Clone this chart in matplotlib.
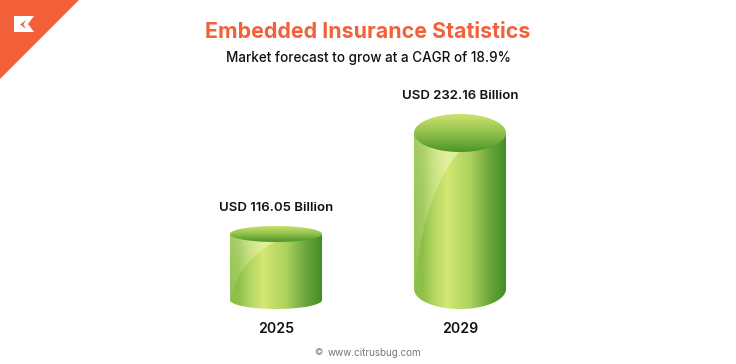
import numpy as np
import matplotlib
matplotlib.use('Agg')
import matplotlib.pyplot as plt
from matplotlib.colors import LinearSegmentedColormap
from matplotlib.patches import PathPatch, Polygon
from matplotlib.path import Path

years = ['2025', '2029']
values = [116.05, 232.16]
labels = ['USD 116.05 Billion', 'USD 232.16 Billion']

ORANGE = '#F2613A'
FONT = 'Inter'

# px per value unit, picked so the cylinder tops land where they do in the picture
PX_X = 184.0
PX_Y = 101.0 / (values[1] - values[0])
TOP_PX = [234, 133]
HALF_W = 46 / PX_X
top_semi = [8, 19]
bot_center_px = [300, 289]
bot_semi = [9, 20]

body_cmap = LinearSegmentedColormap.from_list('body', [
    (0.0, '#8CBF48'), (0.1, '#8FC14A'), (0.22, '#B4D763'), (0.36, '#D4E872'), (0.62, '#ABD05E'),
    (0.85, '#62A238'), (1.0, '#448F25')])
lid_cmap = LinearSegmentedColormap.from_list('lid', [
    (0.0, '#CFE56F'), (0.5, '#93C24D'), (1.0, '#4A9528')])

fig = plt.figure(figsize=(7.36, 3.64), dpi=100, facecolor='white')
ax = fig.add_axes([0, 0, 1, 1])
ax.axis('off')

deco = fig.add_axes([0, 0, 1, 1])
deco.set_xlim(0, 736)
deco.set_ylim(364, 0)
deco.axis('off')


def arc(cx, cy, rx, ry, a0, a1, n=60):
    t = np.linspace(a0, a1, n)
    return np.column_stack([cx + rx * np.cos(t), cy + ry * np.sin(t)])


def clipped_image(img, extent, verts, **kw):
    im = ax.imshow(img, extent=extent, aspect='auto', origin='upper', **kw)
    patch = PathPatch(Path(verts), transform=ax.transData, fc='none', ec='none')
    ax.add_patch(patch)
    im.set_clip_path(patch)
    return im


for i, v in enumerate(values):
    ry_top = top_semi[i] / PX_Y
    ry_bot = bot_semi[i] / PX_Y
    y_bot = v - (bot_center_px[i] - TOP_PX[i]) / PX_Y
    left, right = i - HALF_W, i + HALF_W
    extent = (left, right, y_bot - ry_bot, v + ry_top)

    # side of the cylinder
    lower = arc(i, y_bot, HALF_W, ry_bot, np.pi, 2 * np.pi)
    body = np.vstack([[[left, v]], lower, [[right, v]], [[left, v]]])
    grad = np.linspace(0, 1, 256).reshape(1, -1)
    clipped_image(grad, extent, body, cmap=body_cmap, vmin=0, vmax=1, zorder=2)

    # glossy patch on the upper left
    peak_x = i - HALF_W + 0.49 * 2 * HALF_W
    t_peak = np.arccos((peak_x - i) / HALF_W)
    peak_y = v - ry_top * np.sin(t_peak)
    start_y = y_bot - 0.3 * ry_bot
    s = np.linspace(0, 1, 60)[:, None]
    p0 = np.array([left, start_y])
    p1 = np.array([left + 0.076 * 2 * HALF_W, start_y + 0.68 * (peak_y - start_y)])
    p2 = np.array([peak_x, peak_y])
    curve = (1 - s) ** 2 * p0 + 2 * s * (1 - s) * p1 + s ** 2 * p2
    edge = arc(i, v, HALF_W, -ry_top, t_peak, np.pi)
    gloss = np.vstack([curve, edge, [p0]])
    xx, yy = np.meshgrid(np.linspace(0, 1, 128), np.linspace(1, 0, 128))
    alpha = (0.22 + 0.4 * yy ** 1.5) * np.clip(0.4 + 0.6 * xx / 0.35, 0, 1)
    rgba = np.ones((128, 128, 4))
    rgba[..., 0] = 0.96
    rgba[..., 1] = 0.98
    rgba[..., 2] = 0.78
    rgba[..., 3] = alpha
    clipped_image(rgba, extent, gloss, zorder=3)

    # lid
    lid = arc(i, v, HALF_W, ry_top, 0, 2 * np.pi, 120)
    grad = np.linspace(0, 1, 128).reshape(-1, 1)
    clipped_image(grad, (left, right, v - ry_top, v + ry_top), lid,
                  cmap=lid_cmap, vmin=0, vmax=1, zorder=4)

    ax.text(i, v + ry_top + 18 / PX_Y, labels[i], ha='center', va='center',
            fontsize=9.5, fontweight='semibold', family=FONT, color='#111111', zorder=5)
    ax.text(i, values[0] - (329 - TOP_PX[0]) / PX_Y, years[i], ha='center', va='center',
            fontsize=10.2, fontweight='semibold', family=FONT, color='#111111', zorder=5)

ax.set_xlim(-276 / PX_X, (736 - 276) / PX_X)
ax.set_ylim(values[0] - (364 - TOP_PX[0]) / PX_Y, values[0] + TOP_PX[0] / PX_Y)

# corner badge
deco.add_patch(Polygon([(0, 0), (79, 0), (0, 79)], closed=True, fc=ORANGE, ec='none'))
deco.add_patch(Polygon([(14, 16), (34, 16), (28, 24), (34, 32), (14, 32)], closed=True, fc='white', ec='none'))
deco.add_patch(Polygon([(26, 20), (20, 24.5), (26, 29), (23.5, 24.5)], closed=True, fc='#D9745A', ec='none'))

deco.text(368, 32.5, 'Embedded Insurance Statistics', ha='center', va='center',
          fontsize=15.4, fontweight='bold', family=FONT, color=ORANGE)
deco.text(368, 58, 'Market forecast to grow at a CAGR of 18.9%', ha='center', va='center',
          fontsize=9.7, fontweight='medium', family=FONT, color='#111111')
deco.text(318, 353, '\u00a9', ha='center', va='center', fontsize=6.5, family=FONT, color='#777777')
deco.text(374, 353, 'www.citrusbug.com', ha='center', va='center', fontsize=7.1, family=FONT, color='#777777')

fig.savefig('out.png', dpi=100)
